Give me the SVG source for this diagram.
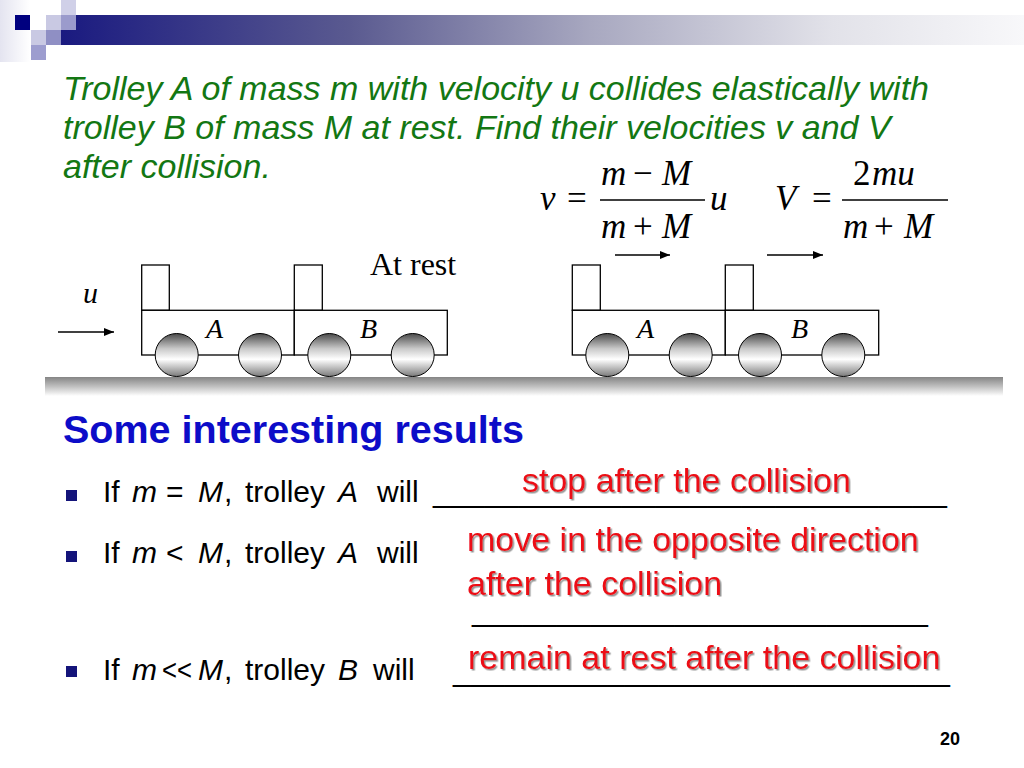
<svg xmlns="http://www.w3.org/2000/svg" width="1024" height="768" viewBox="0 0 1024 768">
<defs>
<style>
.sans{font-family:"Liberation Sans",Arial,sans-serif}
.serif{font-family:"Liberation Serif","Times New Roman",serif}
.it{font-style:italic}
.title{font-size:34px;fill:#137713;font-style:italic}
.head{font-size:39.5px;font-weight:bold;fill:#0c0cc8}
.bl{font-size:30px;fill:#000}
.red{font-size:34px;fill:#ec0a12;filter:url(#shadow)}
.eq{font-size:35px;fill:#000}
.lbl{font-size:28px;fill:#000}
.body{fill:#fff;stroke:#000;stroke-width:1.3}
.wheel{fill:url(#wheelGrad);stroke:#000;stroke-width:1}
.bullet{fill:#14147a}
.arrow{stroke:#000;stroke-width:1.3;fill:none;marker-end:url(#ah)}
.frac{stroke:#000;stroke-width:1.5}
</style>
<linearGradient id="barGrad" x1="0" y1="0" x2="1" y2="0">
<stop offset="0" stop-color="#1a1a80"/>
<stop offset="0.3" stop-color="#5a5a90"/>
<stop offset="0.55" stop-color="#a8a8c0"/>
<stop offset="0.8" stop-color="#e2e2e9"/>
<stop offset="1" stop-color="#f8f8fa"/>
</linearGradient>
<linearGradient id="leftGrad" x1="0" y1="0" x2="1" y2="0">
<stop offset="0" stop-color="#e4e4f0"/>
<stop offset="1" stop-color="#ffffff"/>
</linearGradient>
<linearGradient id="wheelGrad" x1="0" y1="0" x2="0" y2="1">
<stop offset="0" stop-color="#4a4a4a"/>
<stop offset="0.35" stop-color="#c8c8c8"/>
<stop offset="0.6" stop-color="#ffffff"/>
<stop offset="1" stop-color="#7a7a7a"/>
</linearGradient>
<linearGradient id="groundGrad" x1="0" y1="0" x2="0" y2="1">
<stop offset="0" stop-color="#858585"/>
<stop offset="0.5" stop-color="#c0c0c0"/>
<stop offset="1" stop-color="#ffffff"/>
</linearGradient>
<marker id="ah" viewBox="0 0 10 8" refX="10" refY="4" markerWidth="10" markerHeight="8" markerUnits="userSpaceOnUse" orient="auto">
<path d="M0,0 L10,4 L0,8 Z" fill="#000"/>
</marker>
<filter id="shadow" x="-5%" y="-20%" width="110%" height="150%">
<feDropShadow dx="1.5" dy="1.5" stdDeviation="0.6" flood-color="#8a8a8a" flood-opacity="0.9"/>
</filter>
</defs>
<rect width="1024" height="768" fill="#fff"/>

<g id="header">
<rect x="0" y="0" width="30" height="62" fill="url(#leftGrad)"/>
<rect x="61" y="15" width="963" height="30" fill="url(#barGrad)"/>
<rect x="15" y="15" width="15" height="15" fill="#00007f"/>
<rect x="46" y="15" width="15" height="15" fill="#c9c9e3"/>
<rect x="61" y="15" width="15" height="15" fill="#9b9bcc"/>
<rect x="61" y="0" width="15" height="15" fill="#d0d0e8"/>
<rect x="31" y="30" width="15" height="15" fill="#c9c9e3"/>
<rect x="46" y="30" width="15" height="15" fill="#8f8fc4"/>
<rect x="31" y="45" width="15" height="15" fill="#9d9dcf"/>
</g>

<g id="question" class="sans title">
<text x="63" y="100">Trolley A of mass m with velocity u collides elastically with</text>
<text x="63" y="139">trolley B of mass M at rest. Find their velocities v and V</text>
<text x="63" y="178">after collision.</text>
</g>

<g id="formula-v" class="serif eq">
<text x="540" y="210" class="it">v</text>
<text x="567" y="210">=</text>
<line class="frac" x1="600" y1="200" x2="705" y2="200"/>
<text x="601" y="185" class="it">m</text>
<text x="633" y="185">−</text>
<text x="662" y="185" class="it">M</text>
<text x="601" y="238" class="it">m</text>
<text x="633" y="238">+</text>
<text x="662" y="238" class="it">M</text>
<text x="710" y="210" class="it">u</text>
</g>

<g id="formula-V" class="serif eq">
<text x="775" y="210" class="it">V</text>
<text x="812" y="210">=</text>
<line class="frac" x1="842" y1="200" x2="948" y2="200"/>
<text y="185"><tspan x="853">2</tspan><tspan x="872" class="it">mu</tspan></text>
<text x="843" y="238" class="it">m</text>
<text x="874" y="238">+</text>
<text x="904" y="238" class="it">M</text>
</g>

<g id="ground">
<rect x="45" y="377" width="958" height="19" fill="url(#groundGrad)"/>
</g>

<g id="scene1-trolleyA">
<rect class="body" x="141.7" y="265" width="27.6" height="45.3"/>
<rect class="body" x="141.7" y="310.3" width="152.6" height="44.7"/>
<circle class="wheel" cx="176.7" cy="355" r="21.5"/>
<circle class="wheel" cx="260" cy="355" r="21.5"/>
<text class="serif it lbl" x="206" y="338">A</text>
</g>
<g id="scene1-trolleyB">
<rect class="body" x="294.3" y="265" width="28" height="45.3"/>
<rect class="body" x="294.3" y="310.3" width="153" height="44.7"/>
<circle class="wheel" cx="329.3" cy="355" r="21.5"/>
<circle class="wheel" cx="412.7" cy="355" r="21.5"/>
<text class="serif it lbl" x="360" y="338">B</text>
</g>
<g id="label-u"><text class="serif it" style="font-size:30px" x="83" y="303">u</text></g>
<g id="label-atrest"><text class="serif" style="font-size:32px" x="370" y="275">At rest</text></g>

<g id="scene2-trolleyA">
<rect class="body" x="572.3" y="265" width="28" height="45.3"/>
<rect class="body" x="572.3" y="310.3" width="153" height="44.7"/>
<circle class="wheel" cx="607.3" cy="355" r="21.5"/>
<circle class="wheel" cx="690.7" cy="355" r="21.5"/>
<text class="serif it lbl" x="637" y="338">A</text>
</g>
<g id="scene2-trolleyB">
<rect class="body" x="725.3" y="265" width="28" height="45.3"/>
<rect class="body" x="725.3" y="310.3" width="153.4" height="44.7"/>
<circle class="wheel" cx="760" cy="355" r="21.5"/>
<circle class="wheel" cx="843.3" cy="355" r="21.5"/>
<text class="serif it lbl" x="791" y="338">B</text>
</g>

<g id="connectors">
<line class="arrow" x1="58" y1="332" x2="114" y2="332"/>
<line class="arrow" x1="615" y1="255" x2="670" y2="255"/>
<line class="arrow" x1="767" y1="255" x2="823" y2="255"/>
</g>

<g id="heading"><text class="sans head" x="63" y="443">Some interesting results</text></g>

<g id="bullet1" class="sans bl">
<rect class="bullet" x="66" y="490" width="11" height="11"/>
<text y="502"><tspan x="103">If</tspan><tspan x="132" class="it">m</tspan><tspan x="166">=</tspan><tspan x="198" class="it">M</tspan><tspan x="224">,</tspan><tspan x="245">trolley</tspan><tspan x="338" class="it">A</tspan><tspan x="377">will</tspan></text>
<text x="433" y="502" textLength="514" lengthAdjust="spacingAndGlyphs">______________________________</text>
</g>
<g id="answer1" class="sans red"><text x="522" y="492">stop after the collision</text></g>

<g id="bullet2" class="sans bl">
<rect class="bullet" x="66" y="551" width="11" height="11"/>
<text y="563"><tspan x="103">If</tspan><tspan x="132" class="it">m</tspan><tspan x="166">&lt;</tspan><tspan x="198" class="it">M</tspan><tspan x="224">,</tspan><tspan x="245">trolley</tspan><tspan x="338" class="it">A</tspan><tspan x="377">will</tspan></text>
<text x="472" y="620.5" textLength="456" lengthAdjust="spacingAndGlyphs">___________________________</text>
</g>
<g id="answer2" class="sans red">
<text x="467" y="551">move in the opposite direction</text>
<text x="467" y="595">after the collision</text>
</g>

<g id="bullet3" class="sans bl">
<rect class="bullet" x="66" y="666" width="11" height="11"/>
<text y="680"><tspan x="103">If</tspan><tspan x="132" class="it">m</tspan><tspan x="162" textLength="30" lengthAdjust="spacingAndGlyphs">&lt;&lt;</tspan><tspan x="198" class="it">M</tspan><tspan x="224">,</tspan><tspan x="245">trolley</tspan><tspan x="338" class="it">B</tspan><tspan x="373">will</tspan></text>
<text x="453" y="681" textLength="497" lengthAdjust="spacingAndGlyphs">_____________________________</text>
</g>
<g id="answer3" class="sans red"><text x="468" y="669">remain at rest after the collision</text></g>

<g id="page-number"><text class="sans" style="font-size:18px;font-weight:bold" x="940" y="745">20</text></g>
</svg>
